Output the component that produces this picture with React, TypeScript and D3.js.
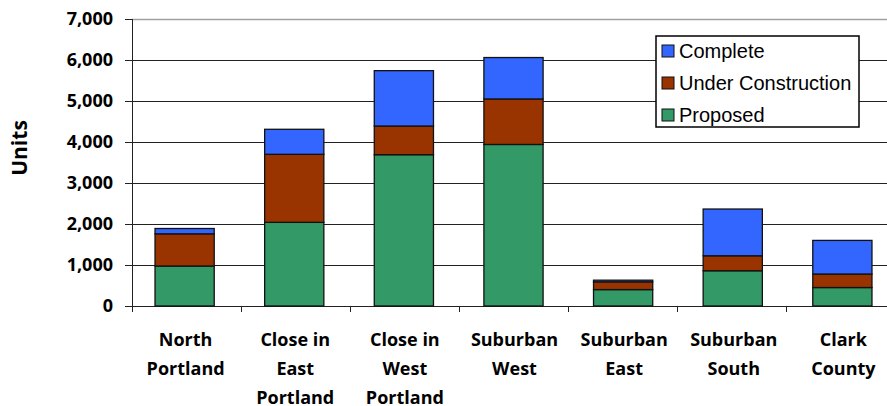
import React from "react";
import * as d3 from "d3";

// Categories and stacked series values (units)
const categories = [
  "North Portland",
  "Close in East Portland",
  "Close in West Portland",
  "Suburban West",
  "Suburban East",
  "Suburban South",
  "Clark County",
];
const categoryLines = [
  ["North", "Portland"],
  ["Close in", "East", "Portland"],
  ["Close in", "West", "Portland"],
  ["Suburban", "West"],
  ["Suburban", "East"],
  ["Suburban", "South"],
  ["Clark", "County"],
];
const proposed = [975, 2040, 3690, 3940, 400, 860, 450];
const underConstruction = [785, 1660, 700, 1110, 190, 365, 330];
const complete = [130, 610, 1350, 1010, 40, 1140, 820];
const yTicks = [0, 1000, 2000, 3000, 4000, 5000, 6000, 7000];

const seriesNames = ["Proposed", "Under Construction", "Complete"];
const seriesColors = ["#339966", "#993300", "#3366FF"];
const legendOrder = [2, 1, 0];

const App: React.FC = () => {
  const width = 887;
  const height = 406;
  const margin = { top: 19, right: -8, bottom: 100, left: 132 };
  const innerBottom = height - margin.bottom;

  const table = categories.map((c, i) => ({
    category: c,
    Proposed: proposed[i],
    "Under Construction": underConstruction[i],
    Complete: complete[i],
  }));
  const stack = d3.stack<any>().keys(seriesNames)(table);

  const x = d3
    .scaleBand()
    .domain(categories)
    .range([margin.left, width - margin.right])
    .paddingInner(0.46)
    .paddingOuter(0.21);
  const xStep = (width - margin.right - margin.left) / categories.length;
  const y = d3.scaleLinear().domain([0, 7000]).range([innerBottom, margin.top]);
  const fmt = d3.format(",");

  const labelFont = "'Open Sans', 'DejaVu Sans', sans-serif";

  return (
    <svg
      width={width}
      height={height}
      style={{ position: "fixed", left: 0, top: 0, background: "#fff" }}
    >
      {/* gridlines */}
      {yTicks.map((t) => (
        <line
          key={"g" + t}
          x1={margin.left}
          x2={width + 10}
          y1={Math.round(y(t)) + 0.5}
          y2={Math.round(y(t)) + 0.5}
          stroke={t === 7000 ? "#a0a0a0" : "#222"}
          strokeWidth={t === 7000 ? 1.5 : 1}
        />
      ))}

      {/* bars */}
      {stack.map((s, si) =>
        s.map((d, i) => (
          <rect
            key={si + "-" + i}
            x={x(categories[i])}
            width={x.bandwidth()}
            y={y(d[1])}
            height={y(d[0]) - y(d[1])}
            fill={seriesColors[si]}
            stroke="#111"
            strokeWidth={1.3}
          />
        ))
      )}

      {/* y axis */}
      <line
        x1={margin.left + 0.5}
        x2={margin.left + 0.5}
        y1={margin.top}
        y2={innerBottom + 6}
        stroke="#222"
      />
      {yTicks.map((t) => (
        <g key={"yt" + t}>
          <line
            x1={margin.left - 7}
            x2={margin.left}
            y1={Math.round(y(t)) + 0.5}
            y2={Math.round(y(t)) + 0.5}
            stroke="#222"
          />
          <text
            x={113}
            y={y(t)}
            dy="0.36em"
            textAnchor="end"
            fontFamily={labelFont}
            fontWeight="bold"
            fontSize={18}
            fill="#000"
          >
            {fmt(t)}
          </text>
        </g>
      ))}

      {/* x axis ticks */}
      {categories.map((c, i) => (
        <line
          key={"xt" + i}
          x1={Math.round(margin.left + i * xStep) + 0.5}
          x2={Math.round(margin.left + i * xStep) + 0.5}
          y1={innerBottom}
          y2={innerBottom + 6}
          stroke="#222"
        />
      ))}

      {/* category labels */}
      {categoryLines.map((lines, i) => {
        const cx = (x(categories[i]) || 0) + x.bandwidth() / 2 + 1;
        return (
          <text
            key={"cl" + i}
            x={cx}
            y={346}
            textAnchor="middle"
            fontFamily={labelFont}
            fontWeight="bold"
            fontSize={18}
            fill="#000"
          >
            {lines.map((l, j) => (
              <tspan key={j} x={cx} dy={j === 0 ? 0 : 29}>
                {l}
              </tspan>
            ))}
          </text>
        );
      })}

      {/* axis title */}
      <text
        transform="translate(27, 148) rotate(-90)"
        textAnchor="middle"
        fontFamily={labelFont}
        fontWeight="bold"
        fontSize={21}
        fill="#000"
      >
        Units
      </text>

      {/* legend */}
      <g>
        <rect x={656} y={36} width={203} height={91} fill="#fff" stroke="#000" strokeWidth={1.5} />
        {legendOrder.map((si, r) => (
          <g key={"lg" + si} transform={`translate(662, ${51 + r * 32})`}>
            <rect x={0} y={-6} width={12} height={12} fill={seriesColors[si]} stroke="#111" strokeWidth={1} />
            <text
              x={17}
              y={0}
              dy="0.36em"
              fontFamily="'Liberation Sans', Arial, sans-serif"
              fontSize={20}
              fill="#000"
            >
              {seriesNames[si]}
            </text>
          </g>
        ))}
      </g>
    </svg>
  );
};

export default App;
